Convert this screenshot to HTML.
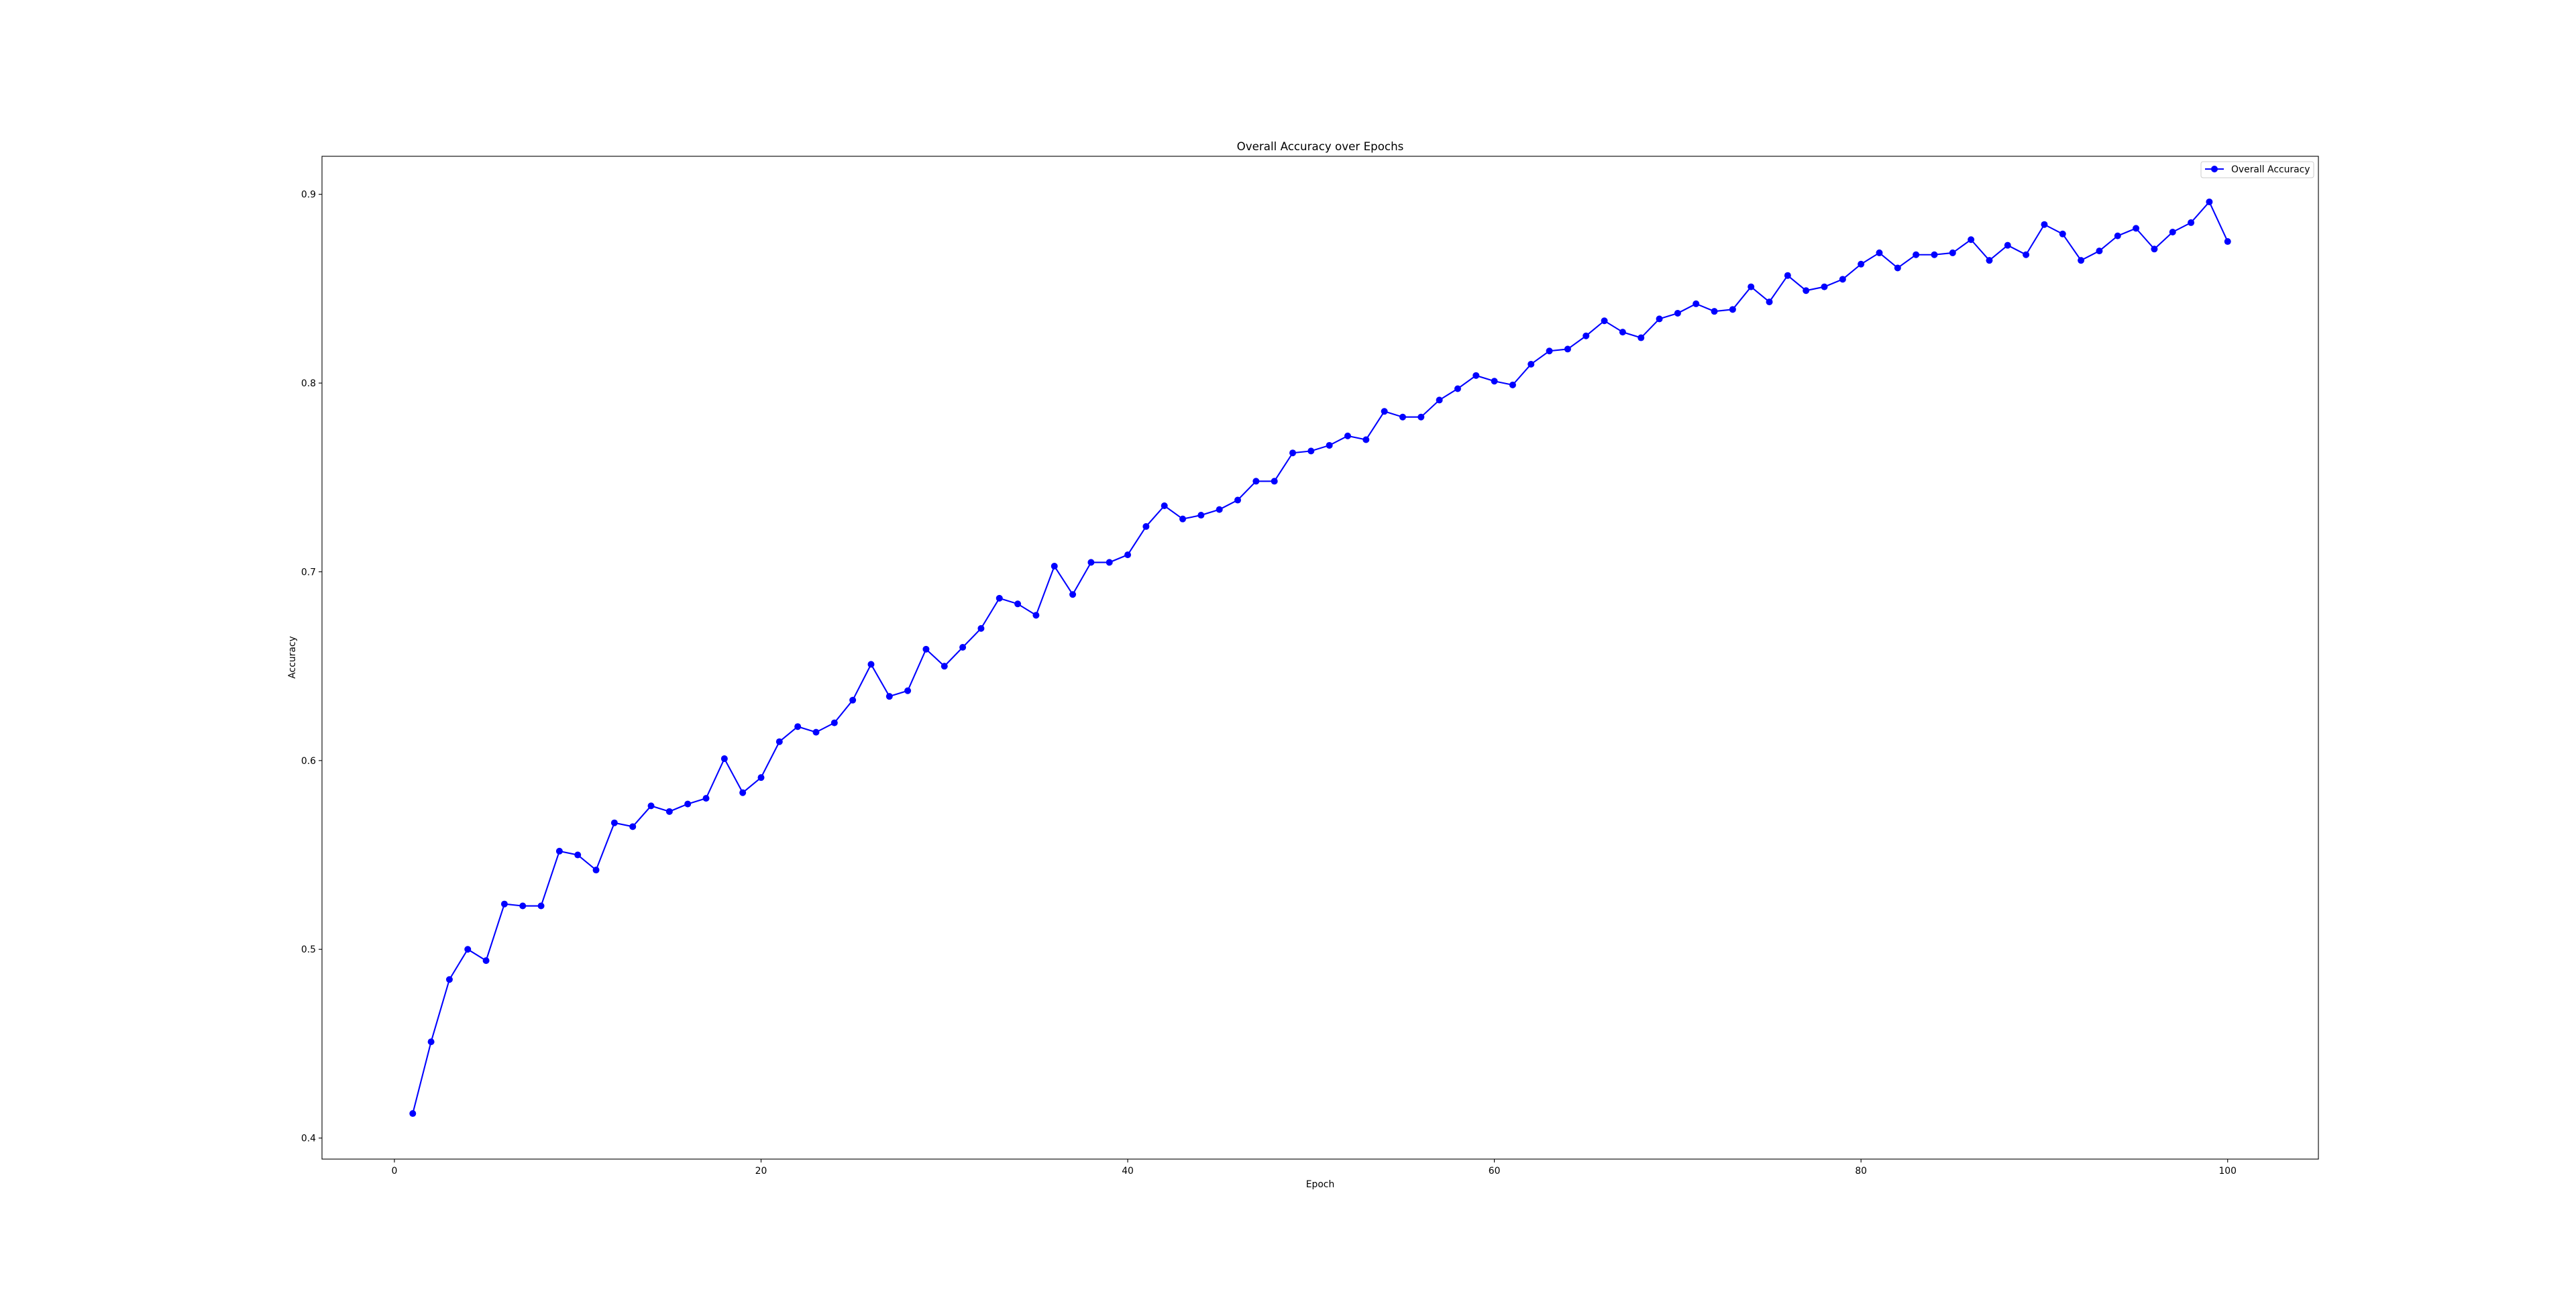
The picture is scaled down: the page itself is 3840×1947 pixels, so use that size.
<!DOCTYPE html>
<html><head><meta charset="utf-8"><style>
body{margin:0;background:#fff}
svg text{font-family:"DejaVu Sans","Liberation Sans",sans-serif;fill:#000}
</style></head><body>
<svg width="3840" height="1942" viewBox="0 0 3840 1942" xmlns="http://www.w3.org/2000/svg">
<rect width="3840" height="1942" fill="#fff"/>
<text x="1968" y="224" font-size="16.7" text-anchor="middle">Overall Accuracy over Epochs</text>
<g id="xticks"></g><g id="yticks"></g>
<polyline id="series-line" fill="none" stroke="#0000ff" stroke-width="2.1"/>
<g id="points"></g>
<rect x="480" y="233" width="2976" height="1495" fill="none" stroke="#000" stroke-width="1.1"/>
<text x="1968" y="1770" font-size="13.9" text-anchor="middle">Epoch</text>
<text transform="translate(440,980) rotate(-90)" font-size="13.9" text-anchor="middle">Accuracy</text>
<g>
<rect x="3281" y="241" width="168" height="24" rx="3" fill="#fff" fill-opacity="0.8" stroke="#ccc" stroke-width="1"/>
<line x1="3287" y1="252" x2="3315" y2="252" stroke="#0000ff" stroke-width="2.1"/>
<circle cx="3301" cy="252" r="5" fill="#0000ff"/>
<text x="3326" y="257" font-size="13.9">Overall Accuracy</text>
</g>
</svg>
<script>
const epochs=[];for(let i=1;i<=100;i++)epochs.push(i);
const accuracy=[0.413,0.451,0.484,0.500,0.494,0.524,0.523,0.523,0.552,0.550,0.542,0.567,0.565,0.576,0.573,0.577,0.580,0.601,0.583,0.591,0.610,0.618,0.615,0.620,0.632,0.651,0.634,0.637,0.659,0.650,0.660,0.670,0.686,0.683,0.677,0.703,0.688,0.705,0.705,0.709,0.724,0.735,0.728,0.730,0.733,0.738,0.748,0.748,0.763,0.764,0.767,0.772,0.770,0.785,0.782,0.782,0.791,0.797,0.804,0.801,0.799,0.810,0.817,0.818,0.825,0.833,0.827,0.824,0.834,0.837,0.842,0.838,0.839,0.851,0.843,0.857,0.849,0.851,0.855,0.863,0.869,0.861,0.868,0.868,0.869,0.876,0.865,0.873,0.868,0.884,0.879,0.865,0.870,0.878,0.882,0.871,0.880,0.885,0.896,0.875];
const xTicks=[0,20,40,60,80,100];
const yTicks=[0.4,0.5,0.6,0.7,0.8,0.9];
const NS="http://www.w3.org/2000/svg";
const L=480,R=3456,T=233,B=1728;
const xmin=Math.min(...epochs),xmax=Math.max(...epochs),xp=(xmax-xmin)*0.05;
const ymin=Math.min(...accuracy),ymax=Math.max(...accuracy),yp=(ymax-ymin)*0.05;
const x=v=>L+(v-(xmin-xp))/((xmax+xp)-(xmin-xp))*(R-L);
const y=v=>B-(v-(ymin-yp))/((ymax+yp)-(ymin-yp))*(B-T);
function mk(tag,attrs,parent){const e=document.createElementNS(NS,tag);for(const k in attrs)e.setAttribute(k,attrs[k]);parent.appendChild(e);return e;}
const gx=document.getElementById('xticks'),gy=document.getElementById('yticks');
xTicks.forEach(t=>{
 const l=mk('line',{x1:x(t),x2:x(t),y1:B,y2:B+5,stroke:'#000','stroke-width':1.1},gx);
 
 
 const tx=mk('text',{x:x(t),y:B+22,'font-size':13.9,'text-anchor':'middle'},gx);tx.textContent=String(t);
 
 
});
yTicks.forEach(t=>{
 const l=mk('line',{x1:L-5,x2:L,y1:y(t),y2:y(t),stroke:'#000','stroke-width':1.1},gy);
 
 
 const tx=mk('text',{x:L-9,y:y(t)+5,'font-size':13.9,'text-anchor':'end'},gy);tx.textContent=t.toFixed(1);
 
 
});
document.getElementById('series-line').setAttribute('points',epochs.map((e,i)=>x(e)+','+y(accuracy[i])).join(' '));
const gp=document.getElementById('points');
epochs.forEach((e,i)=>{
 const c=mk('circle',{cx:x(e),cy:y(accuracy[i]),r:5,fill:'#0000ff'},gp);
 
 
});
</script>
</body></html>
